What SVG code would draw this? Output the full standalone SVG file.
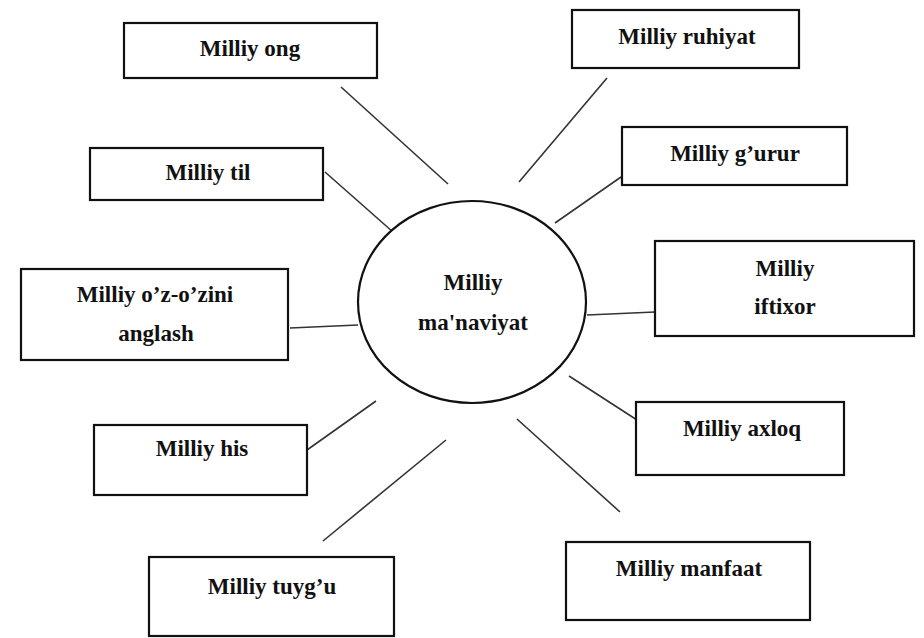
<svg xmlns="http://www.w3.org/2000/svg" width="924" height="638" viewBox="0 0 924 638">
<style>
.box{fill:#fff;stroke:#111;stroke-width:2.2}
.hub{fill:#fff;stroke:#111;stroke-width:2.2}
.t{font-family:"Liberation Serif","Times New Roman",serif;font-weight:bold;font-size:23px;fill:#111;text-anchor:middle}
.c line{stroke:#333;stroke-width:1.6}
</style>
<rect width="924" height="638" fill="#fff"/>
<g class="c" id="connectors">
<line x1="341" y1="87" x2="448" y2="184"/>
<line x1="325" y1="172" x2="393" y2="232"/>
<line x1="290" y1="328" x2="358" y2="325"/>
<line x1="307" y1="450" x2="376" y2="401"/>
<line x1="323" y1="541" x2="446" y2="440"/>
<line x1="607" y1="78" x2="519" y2="182"/>
<line x1="621" y1="177" x2="555" y2="223"/>
<line x1="587" y1="315" x2="655" y2="312"/>
<line x1="569" y1="376" x2="637" y2="420"/>
<line x1="517" y1="419" x2="620" y2="512"/>
</g>
<g id="hub">
<ellipse class="hub" cx="472" cy="302" rx="114" ry="101"/>
<text class="t" x="473" y="290">Milliy</text>
<text class="t" x="473" y="330">ma'naviyat</text>
</g>
<g id="ong"><rect class="box" x="124" y="23" width="253" height="55"/><text class="t" x="250" y="56">Milliy ong</text></g>
<g id="til"><rect class="box" x="90" y="148" width="233" height="52"/><text class="t" x="208" y="180">Milliy til</text></g>
<g id="anglash"><rect class="box" x="21" y="269" width="267" height="91"/><text class="t" x="155" y="302">Milliy o’z-o’zini</text><text class="t" x="156" y="341">anglash</text></g>
<g id="his"><rect class="box" x="94" y="425" width="213" height="70"/><text class="t" x="202" y="456">Milliy his</text></g>
<g id="tuygu"><rect class="box" x="149" y="557" width="245" height="79"/><text class="t" x="272" y="594">Milliy tuyg’u</text></g>
<g id="ruhiyat"><rect class="box" x="572" y="10" width="227" height="58"/><text class="t" x="687" y="44">Milliy ruhiyat</text></g>
<g id="gurur"><rect class="box" x="622" y="127" width="225" height="58"/><text class="t" x="735" y="161">Milliy g’urur</text></g>
<g id="iftixor"><rect class="box" x="655" y="241" width="259" height="95"/><text class="t" x="785" y="276">Milliy</text><text class="t" x="785" y="314">iftixor</text></g>
<g id="axloq"><rect class="box" x="636" y="402" width="208" height="73"/><text class="t" x="742" y="436">Milliy axloq</text></g>
<g id="manfaat"><rect class="box" x="566" y="542" width="244" height="78"/><text class="t" x="689" y="576">Milliy manfaat</text></g>
</svg>
